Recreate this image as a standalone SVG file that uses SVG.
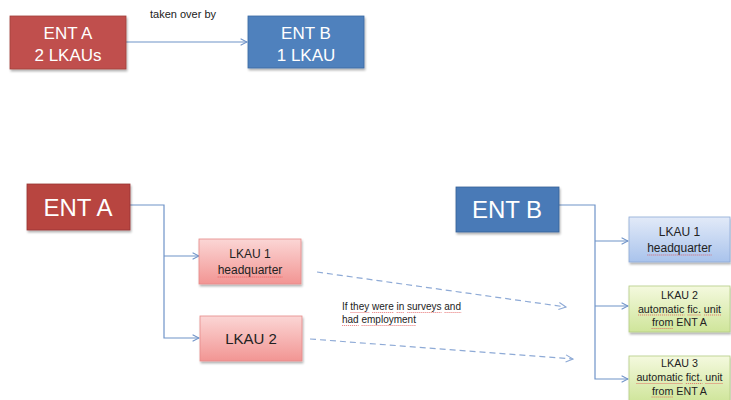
<svg xmlns="http://www.w3.org/2000/svg" width="731" height="400" viewBox="0 0 731 400">
<defs>
<linearGradient id="gPink" x1="0" y1="0" x2="0" y2="1"><stop offset="0" stop-color="#fbd6d5"/><stop offset="1" stop-color="#f29593"/></linearGradient>
<linearGradient id="gBlue" x1="0" y1="0" x2="0" y2="1"><stop offset="0" stop-color="#e2eaf8"/><stop offset="1" stop-color="#a9c3ec"/></linearGradient>
<linearGradient id="gGreen" x1="0" y1="0" x2="0" y2="1"><stop offset="0" stop-color="#f4f9de"/><stop offset="1" stop-color="#cfe59a"/></linearGradient>
<filter id="sh" x="-10%" y="-10%" width="130%" height="140%"><feDropShadow dx="1" dy="2" stdDeviation="1.2" flood-color="#000" flood-opacity="0.3"/></filter>
<marker id="ah" viewBox="0 0 10 10" refX="9" refY="5" markerWidth="8" markerHeight="8" orient="auto" markerUnits="userSpaceOnUse"><path d="M1,1 L9,5 L1,9" fill="none" stroke="#6f93c8" stroke-width="1.3"/></marker>
<marker id="ahd" viewBox="0 0 10 10" refX="9" refY="5" markerWidth="9" markerHeight="9" orient="auto" markerUnits="userSpaceOnUse"><path d="M1,1 L9,5 L1,9" fill="none" stroke="#8eaad6" stroke-width="1.2"/></marker>
</defs>
<style>
text{font-family:"Liberation Sans",Arial,sans-serif;text-anchor:middle}
.w{fill:#fff}
.k{fill:#222}
.ln{fill:none;stroke:#6f93c8;stroke-width:1.2}
.dl{fill:none;stroke:#8eaad6;stroke-width:1.2;stroke-dasharray:6,4}
.sq{fill:none;stroke:#e04848;stroke-width:0.8;stroke-dasharray:1.2,0.8;opacity:0.8}
</style>
<rect width="731" height="400" fill="#fff"/>
<g id="connectors">
<path class="ln" d="M126,42 H247" marker-end="url(#ah)"/>
<path class="ln" d="M130,205 H164 V338 H199" marker-end="url(#ah)"/>
<path class="ln" d="M164,256 H199" marker-end="url(#ah)"/>
<path class="ln" d="M559,205 H595 V379 H628" marker-end="url(#ah)"/>
<path class="ln" d="M595,241 H628" marker-end="url(#ah)"/>
<path class="ln" d="M595,306 H628" marker-end="url(#ah)"/>
<path class="dl" d="M317,272 L566,307" marker-end="url(#ahd)"/>
<path class="dl" d="M310,339 L573,359" marker-end="url(#ahd)"/>
</g>
<g id="label-taken"><text x="183" y="18" font-size="11" class="k">taken over by</text></g>
<g id="label-surveys">
<text x="342" y="310" font-size="10" class="k" style="text-anchor:start">If they were in surveys and</text>
<text x="342" y="323" font-size="10" class="k" style="text-anchor:start">had employment</text>
<path class="sq" d="M350.4,312.5 H369.3 M372.1,312.5 H393.8 M396.6,312.5 H404.4 M407.2,312.5 H441.7 M444.5,312.5 H461.2 M342,325.5 H358.7 M361.5,325.5 H416"/>
</g>
<g id="entA-top">
<rect x="10" y="16" width="116" height="53" fill="#c0504d" stroke="#a03c3a" stroke-width="0.8" filter="url(#sh)"/>
<text x="68" y="39" font-size="17" class="w">ENT A</text>
<text x="68" y="61" font-size="17" class="w">2 LKAUs</text>
</g>
<g id="entB-top">
<rect x="248" y="16" width="116" height="52" fill="#4f81bd" stroke="#3a6aa3" stroke-width="0.8" filter="url(#sh)"/>
<text x="306" y="39" font-size="17" class="w">ENT B</text>
<text x="306" y="61" font-size="17" class="w">1 LKAU</text>
</g>
<g id="entA">
<rect x="27" y="184" width="103" height="46" fill="#b84441" stroke="#983432" stroke-width="0.8" filter="url(#sh)"/>
<text x="78" y="216" font-size="24" class="w">ENT A</text>
</g>
<g id="entB">
<rect x="456" y="187" width="103" height="45" fill="#4a7ab7" stroke="#355f96" stroke-width="0.8" filter="url(#sh)"/>
<text x="507" y="218" font-size="24" class="w">ENT B</text>
</g>
<g id="a-lkau1">
<rect x="199" y="239" width="102" height="45" fill="url(#gPink)" stroke="#e58b89" stroke-width="0.8" filter="url(#sh)"/>
<text x="250" y="258" font-size="12" class="k">LKAU 1</text>
<text x="250" y="273.5" font-size="12" class="k">headquarter</text>
<path class="sq" d="M217.6,277 H282.4"/>
</g>
<g id="a-lkau2">
<rect x="200" y="316" width="102" height="45" fill="url(#gPink)" stroke="#e58b89" stroke-width="0.8" filter="url(#sh)"/>
<text x="251" y="343.5" font-size="15" class="k">LKAU 2</text>
</g>
<g id="b-lkau1">
<rect x="629" y="217" width="101" height="45" fill="url(#gBlue)" stroke="#8eaad6" stroke-width="0.8" filter="url(#sh)"/>
<text x="679.5" y="236" font-size="12" class="k">LKAU 1</text>
<text x="679.5" y="251.5" font-size="12" class="k">headquarter</text>
<path class="sq" d="M647.2,255 H711.8"/>
</g>
<g id="b-lkau2">
<rect x="629" y="286" width="101" height="46" fill="url(#gGreen)" stroke="#b5cc85" stroke-width="0.8" filter="url(#sh)"/>
<text x="679.5" y="299" font-size="10.7" class="k">LKAU 2</text>
<text x="679.5" y="312.5" font-size="10.7" class="k">automatic fic. unit</text>
<text x="679.5" y="326" font-size="10.7" class="k">from ENT A</text>
<path class="sq" d="M638,315 H684.4 M687.4,315 H701.1 M704,315 H721 M651.5,328.5 H673"/>
</g>
<g id="b-lkau3">
<rect x="629" y="356" width="101" height="46" fill="url(#gGreen)" stroke="#b5cc85" stroke-width="0.8" filter="url(#sh)"/>
<text x="679.5" y="367" font-size="10.7" class="k">LKAU 3</text>
<text x="679.5" y="381" font-size="10.7" class="k">automatic fict. unit</text>
<text x="679.5" y="394.5" font-size="10.7" class="k">from ENT A</text>
<path class="sq" d="M636.4,383.5 H682.8 M685.8,383.5 H702.4 M705.4,383.5 H722.6 M651.5,397 H673"/>
</g>
</svg>
